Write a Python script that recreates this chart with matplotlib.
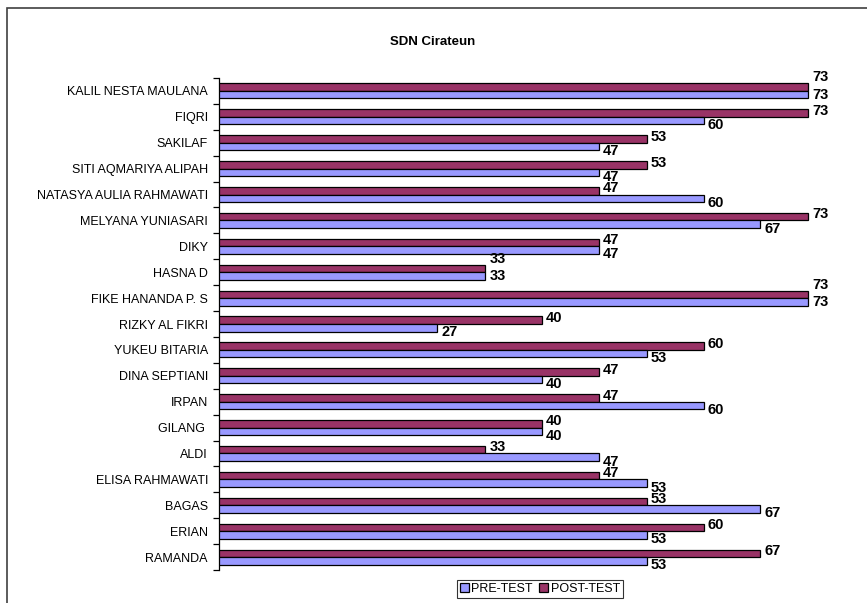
import matplotlib
matplotlib.use("Agg")
import matplotlib.pyplot as plt
from matplotlib.patches import Rectangle
from matplotlib.ticker import FixedLocator, NullFormatter
import numpy as np

plt.rcParams['font.family'] = ['Liberation Sans', 'DejaVu Sans']

names = [
    "KALIL NESTA MAULANA", "FIQRI", "SAKILAF", "SITI AQMARIYA ALIPAH",
    "NATASYA AULIA RAHMAWATI", "MELYANA YUNIASARI", "DIKY", "HASNA D",
    "FIKE HANANDA P. S", "RIZKY AL FIKRI", "YUKEU BITARIA", "DINA SEPTIANI",
    "IRPAN", "GILANG ", "ALDI", "ELISA RAHMAWATI", "BAGAS", "ERIAN", "RAMANDA",
]
pre_test = [73, 60, 47, 47, 60, 67, 47, 33, 73, 27, 53, 40, 60, 40, 47, 53, 67, 53, 53]
post_test = [73, 73, 53, 53, 47, 73, 47, 33, 73, 40, 60, 47, 47, 40, 33, 47, 53, 60, 67]

PRE_COLOR = "#9999FF"
POST_COLOR = "#993366"

W, H, DPI = 867, 603, 100
fig = plt.figure(figsize=(W / DPI, H / DPI), dpi=DPI)

# outer chart-area frame (runs off the right and bottom edges)
fig.patches.append(Rectangle((7 / W, -0.05), 1.2, (H - 8) / H + 0.05,
                             transform=fig.transFigure, fill=False,
                             edgecolor="#404040", linewidth=1.2))

left, right, top, bottom = 219, 865, 78, 570
ax = fig.add_axes([left / W, 1 - bottom / H, (right - left) / W, (bottom - top) / H])

n = len(names)
y = np.arange(n)
bh = 0.29
ax.barh(y - bh / 2, post_test, height=bh, color=POST_COLOR, edgecolor="black",
        linewidth=0.9, label="POST-TEST", zorder=3)
ax.barh(y + bh / 2, pre_test, height=bh, color=PRE_COLOR, edgecolor="black",
        linewidth=0.9, label="PRE-TEST", zorder=3)

ax.set_xlim(0, 80)
ax.set_ylim(n - 0.5, -0.5)

# value labels at the bar ends
lbl_kw = dict(fontsize=10.5, fontweight="bold", va="center", ha="left", zorder=4)
for i, (a, b) in enumerate(zip(post_test, pre_test)):
    post_dy = -0.09
    pre_dy = 0.17
    if a == b and a != 47 and a != 40:
        post_dy = -0.38
        pre_dy = 0.02
    ax.text(a + 0.5, i - bh / 2 + post_dy, str(a), **lbl_kw)
    ax.text(b + 0.5, i + bh / 2 + pre_dy, str(b), **lbl_kw)

# category labels centred, tick marks at category boundaries
ax.yaxis.set_major_locator(FixedLocator(y))
ax.set_yticklabels(names, fontsize=9)
ax.yaxis.set_minor_locator(FixedLocator(np.arange(n + 1) - 0.5))
ax.yaxis.set_minor_formatter(NullFormatter())
ax.tick_params(axis="y", which="major", length=0, pad=8)
ax.tick_params(axis="y", which="minor", length=4, width=0.9, color="black")
ax.set_xticks([])

for s in ("top", "right", "bottom"):
    ax.spines[s].set_visible(False)
ax.spines["left"].set_linewidth(0.9)
ax.set_facecolor("white")

fig.text(433 / W, 1 - 42 / H, "SDN Cirateun", fontsize=9.5, fontweight="bold",
         ha="center", va="center")

handles, labels = ax.get_legend_handles_labels()
leg = fig.legend(handles[::-1], labels[::-1], loc="center",
                 bbox_to_anchor=(540 / W, 1 - 589 / H), ncol=2, fontsize=9,
                 frameon=True, fancybox=False, edgecolor="black",
                 handlelength=0.7, handleheight=0.7, handletextpad=0.2,
                 columnspacing=0.5, borderpad=0.25, borderaxespad=0)
leg.get_frame().set_linewidth(0.8)

fig.savefig("out.png", dpi=DPI, facecolor="white")
